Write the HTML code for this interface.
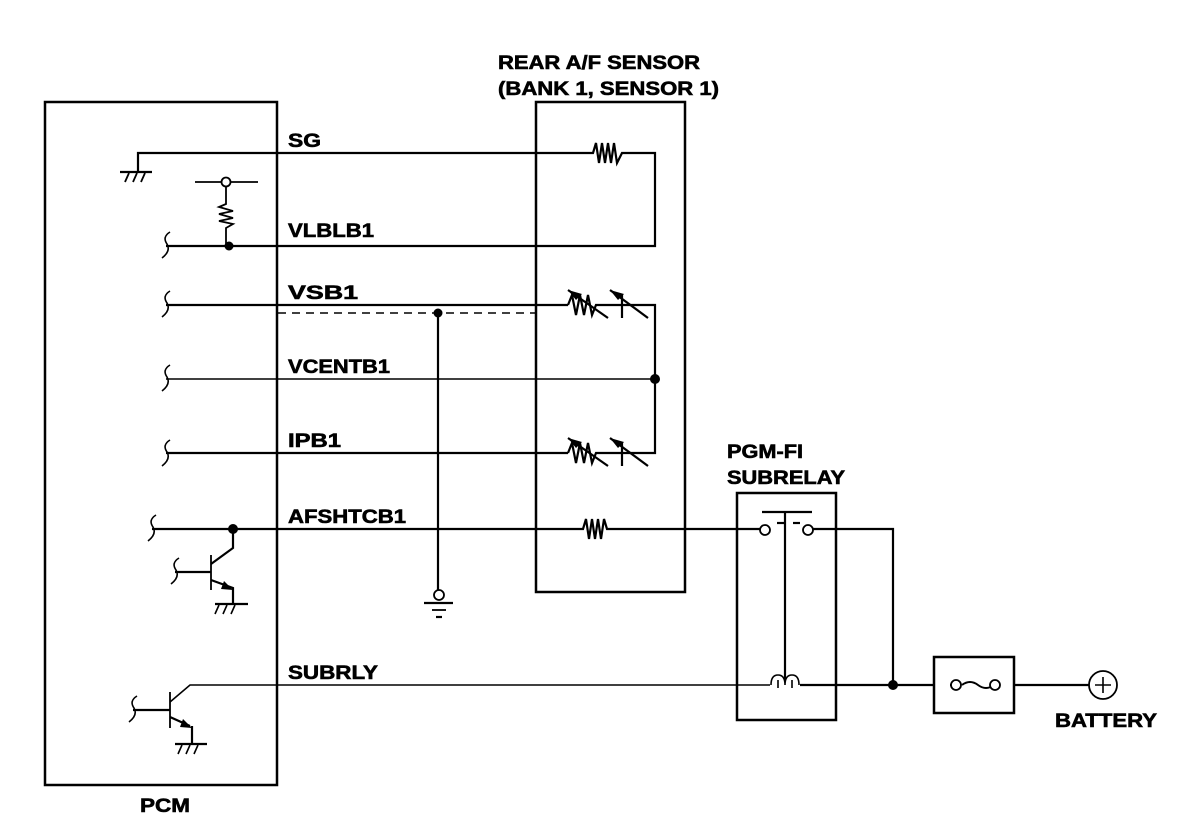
<!DOCTYPE html>
<html><head><style>body{margin:0;background:#fff}svg{display:block}text{font-family:"Liberation Sans",Arial,sans-serif;font-weight:bold;font-size:19px;fill:#000;stroke:#000;stroke-width:0.6}</style></head><body>
<svg width="1200" height="830" viewBox="0 0 1200 830" xmlns="http://www.w3.org/2000/svg">
<g fill="none" stroke="#000" stroke-width="2.5">
<rect x="45" y="102" width="232" height="683"/>
<rect x="536" y="102" width="149" height="490"/>
<rect x="737" y="493" width="99" height="227"/>
<rect x="934" y="657" width="80" height="56"/>
</g>
<g fill="none" stroke="#000" stroke-width="2.2">
<polyline points="138,172 138,153 593,153 596,143 599,163 602,143 605,163 608,143 611,163 614,143 617,163 622,153 655,153 655,246 166,246"/>
<line x1="120" y1="172" x2="152" y2="172"/>
<line x1="125" y1="182" x2="129" y2="173" stroke-width="1.8"/><line x1="133" y1="182" x2="137" y2="173" stroke-width="1.8"/><line x1="141" y1="182" x2="145" y2="173" stroke-width="1.8"/>
<line x1="195" y1="182" x2="258" y2="182" stroke-width="1.8"/>
<polyline points="226,186 226,204 219,207 233,211 219,214 233,218 219,221 233,224 226,228 226,246" stroke-width="1.8"/>
<polyline points="166,305 568,305"/>
<polyline points="600,305 655,305 655,453 600,453"/>
<polyline points="166,453 568,453"/>
<polyline points="568,305 572,295 576,315 580,295 584,315 588,295 592,315 596,305 600,305"/>
<polyline points="568,453 572,443 576,463 580,443 584,463 588,443 592,463 596,453 600,453"/>
<line x1="568" y1="290" x2="608" y2="318"/><line x1="568" y1="438" x2="608" y2="466"/>
<line x1="622" y1="294" x2="622" y2="318"/><line x1="610" y1="290" x2="648" y2="318"/>
<line x1="622" y1="442" x2="622" y2="466"/><line x1="610" y1="438" x2="648" y2="466"/>
<polyline points="152,529 583,529 586,519 589,539 592,519 595,539 598,519 601,539 604,519 607,529 760,529"/>
<polyline points="813,529 893,529 893,685"/>
<line x1="762" y1="512" x2="812" y2="512"/>
<line x1="785" y1="512" x2="785" y2="680"/>
<line x1="777" y1="523" x2="784" y2="523"/><line x1="793" y1="523" x2="800" y2="523"/>
<polyline points="800,685 934,685"/>
<polyline points="1014,685 1089,685"/>
<polyline points="233,529 233,548 211,564"/>
<line x1="211" y1="555" x2="211" y2="590" stroke-width="1.8"/>
<line x1="175" y1="572" x2="211" y2="572"/>
<polyline points="211,580 233,588 233,604"/>
<line x1="215" y1="604" x2="248" y2="604"/>
<line x1="170" y1="692" x2="170" y2="728" stroke-width="1.8"/>
<line x1="133" y1="710" x2="170" y2="710"/>
<polyline points="192,726 192,744"/>
<line x1="175" y1="744" x2="207" y2="744"/>
<line x1="170" y1="717" x2="190" y2="726"/>
<polyline points="438,313 438,590"/>
<line x1="424" y1="603" x2="453" y2="603"/><line x1="432" y1="610" x2="446" y2="610" stroke-width="1.8"/><line x1="436" y1="617" x2="442" y2="617"/>
<path d="M950,685 h6 M994,685 h6"/>
<path d="M962,685 q8,-6 16,0 q8,6 16,0" stroke-width="2"/>
</g>
<g fill="none" stroke="#000" stroke-width="1.6">
<line x1="166" y1="379" x2="655" y2="379"/>
<polyline points="770,685 190,685 170,702"/>
<line x1="278" y1="313" x2="536" y2="313" stroke-dasharray="8,6"/>
<path d="M170,232 q-8,5 -3,12 q4,7 -5,14 M170,291 q-8,5 -3,12 q4,7 -5,14 M170,365 q-8,5 -3,12 q4,7 -5,14 M170,440 q-8,5 -3,12 q4,7 -5,14 M156,515 q-8,5 -3,12 q4,7 -5,14 M179,558 q-8,5 -3,12 q4,7 -5,14 M137,696 q-8,5 -3,12 q4,7 -5,14" />
<path d="M771,685 q0,-10 7,-10 q7,0 7,10 q0,-10 7,-10 q7,0 7,10 M778,680 v8 M792,680 v8"/>
<path d="M215,614 l4,-9 M223,614 l4,-9 M231,614 l4,-9 M178,754 l4,-9 M186,754 l4,-9 M194,754 l4,-9"/>
</g>
<g fill="#fff" stroke="#000" stroke-width="1.8">
<circle cx="226" cy="182" r="4.5"/>
<circle cx="439" cy="595" r="5"/>
<circle cx="765" cy="530" r="5"/><circle cx="808" cy="530" r="5"/>
<circle cx="956" cy="685" r="5"/><circle cx="995" cy="685" r="5"/>
<circle cx="1103" cy="685" r="14"/>
</g>
<path d="M1103,677 v16 M1095,685 h16" stroke="#000" stroke-width="1.6"/>
<g fill="#000">
<circle cx="229" cy="246" r="4.5"/><circle cx="438" cy="313" r="4.5"/><circle cx="655" cy="379" r="5"/>
<circle cx="233" cy="529" r="5"/><circle cx="893" cy="685" r="5"/>
<path d="M568,290 l14,4 l-6,6z M568,438 l14,4 l-6,6z M610,290 l14,4 l-6,6z M610,438 l14,4 l-6,6z"/>
<path d="M233,590 l-12,-1 l3,-8z M192,728 l-12,-1 l3,-8z"/>
</g>
<text x="288" y="147" textLength="33" lengthAdjust="spacingAndGlyphs">SG</text>
<text x="288" y="237" textLength="86" lengthAdjust="spacingAndGlyphs">VLBLB1</text>
<text x="288" y="299" textLength="70" lengthAdjust="spacingAndGlyphs">VSB1</text>
<text x="288" y="373" textLength="102" lengthAdjust="spacingAndGlyphs">VCENTB1</text>
<text x="288" y="447" textLength="53" lengthAdjust="spacingAndGlyphs">IPB1</text>
<text x="288" y="523" textLength="118" lengthAdjust="spacingAndGlyphs">AFSHTCB1</text>
<text x="288" y="679" textLength="90" lengthAdjust="spacingAndGlyphs">SUBRLY</text>
<text x="498" y="69" textLength="202" lengthAdjust="spacingAndGlyphs">REAR A/F SENSOR</text>
<text x="498" y="95" textLength="221" lengthAdjust="spacingAndGlyphs">(BANK 1, SENSOR 1)</text>
<text x="727" y="458" textLength="76" lengthAdjust="spacingAndGlyphs">PGM-FI</text>
<text x="727" y="484" textLength="118" lengthAdjust="spacingAndGlyphs">SUBRELAY</text>
<text x="1055" y="727" textLength="102" lengthAdjust="spacingAndGlyphs">BATTERY</text>
<text x="140" y="812" textLength="50" lengthAdjust="spacingAndGlyphs">PCM</text>
</svg>
</body></html>
